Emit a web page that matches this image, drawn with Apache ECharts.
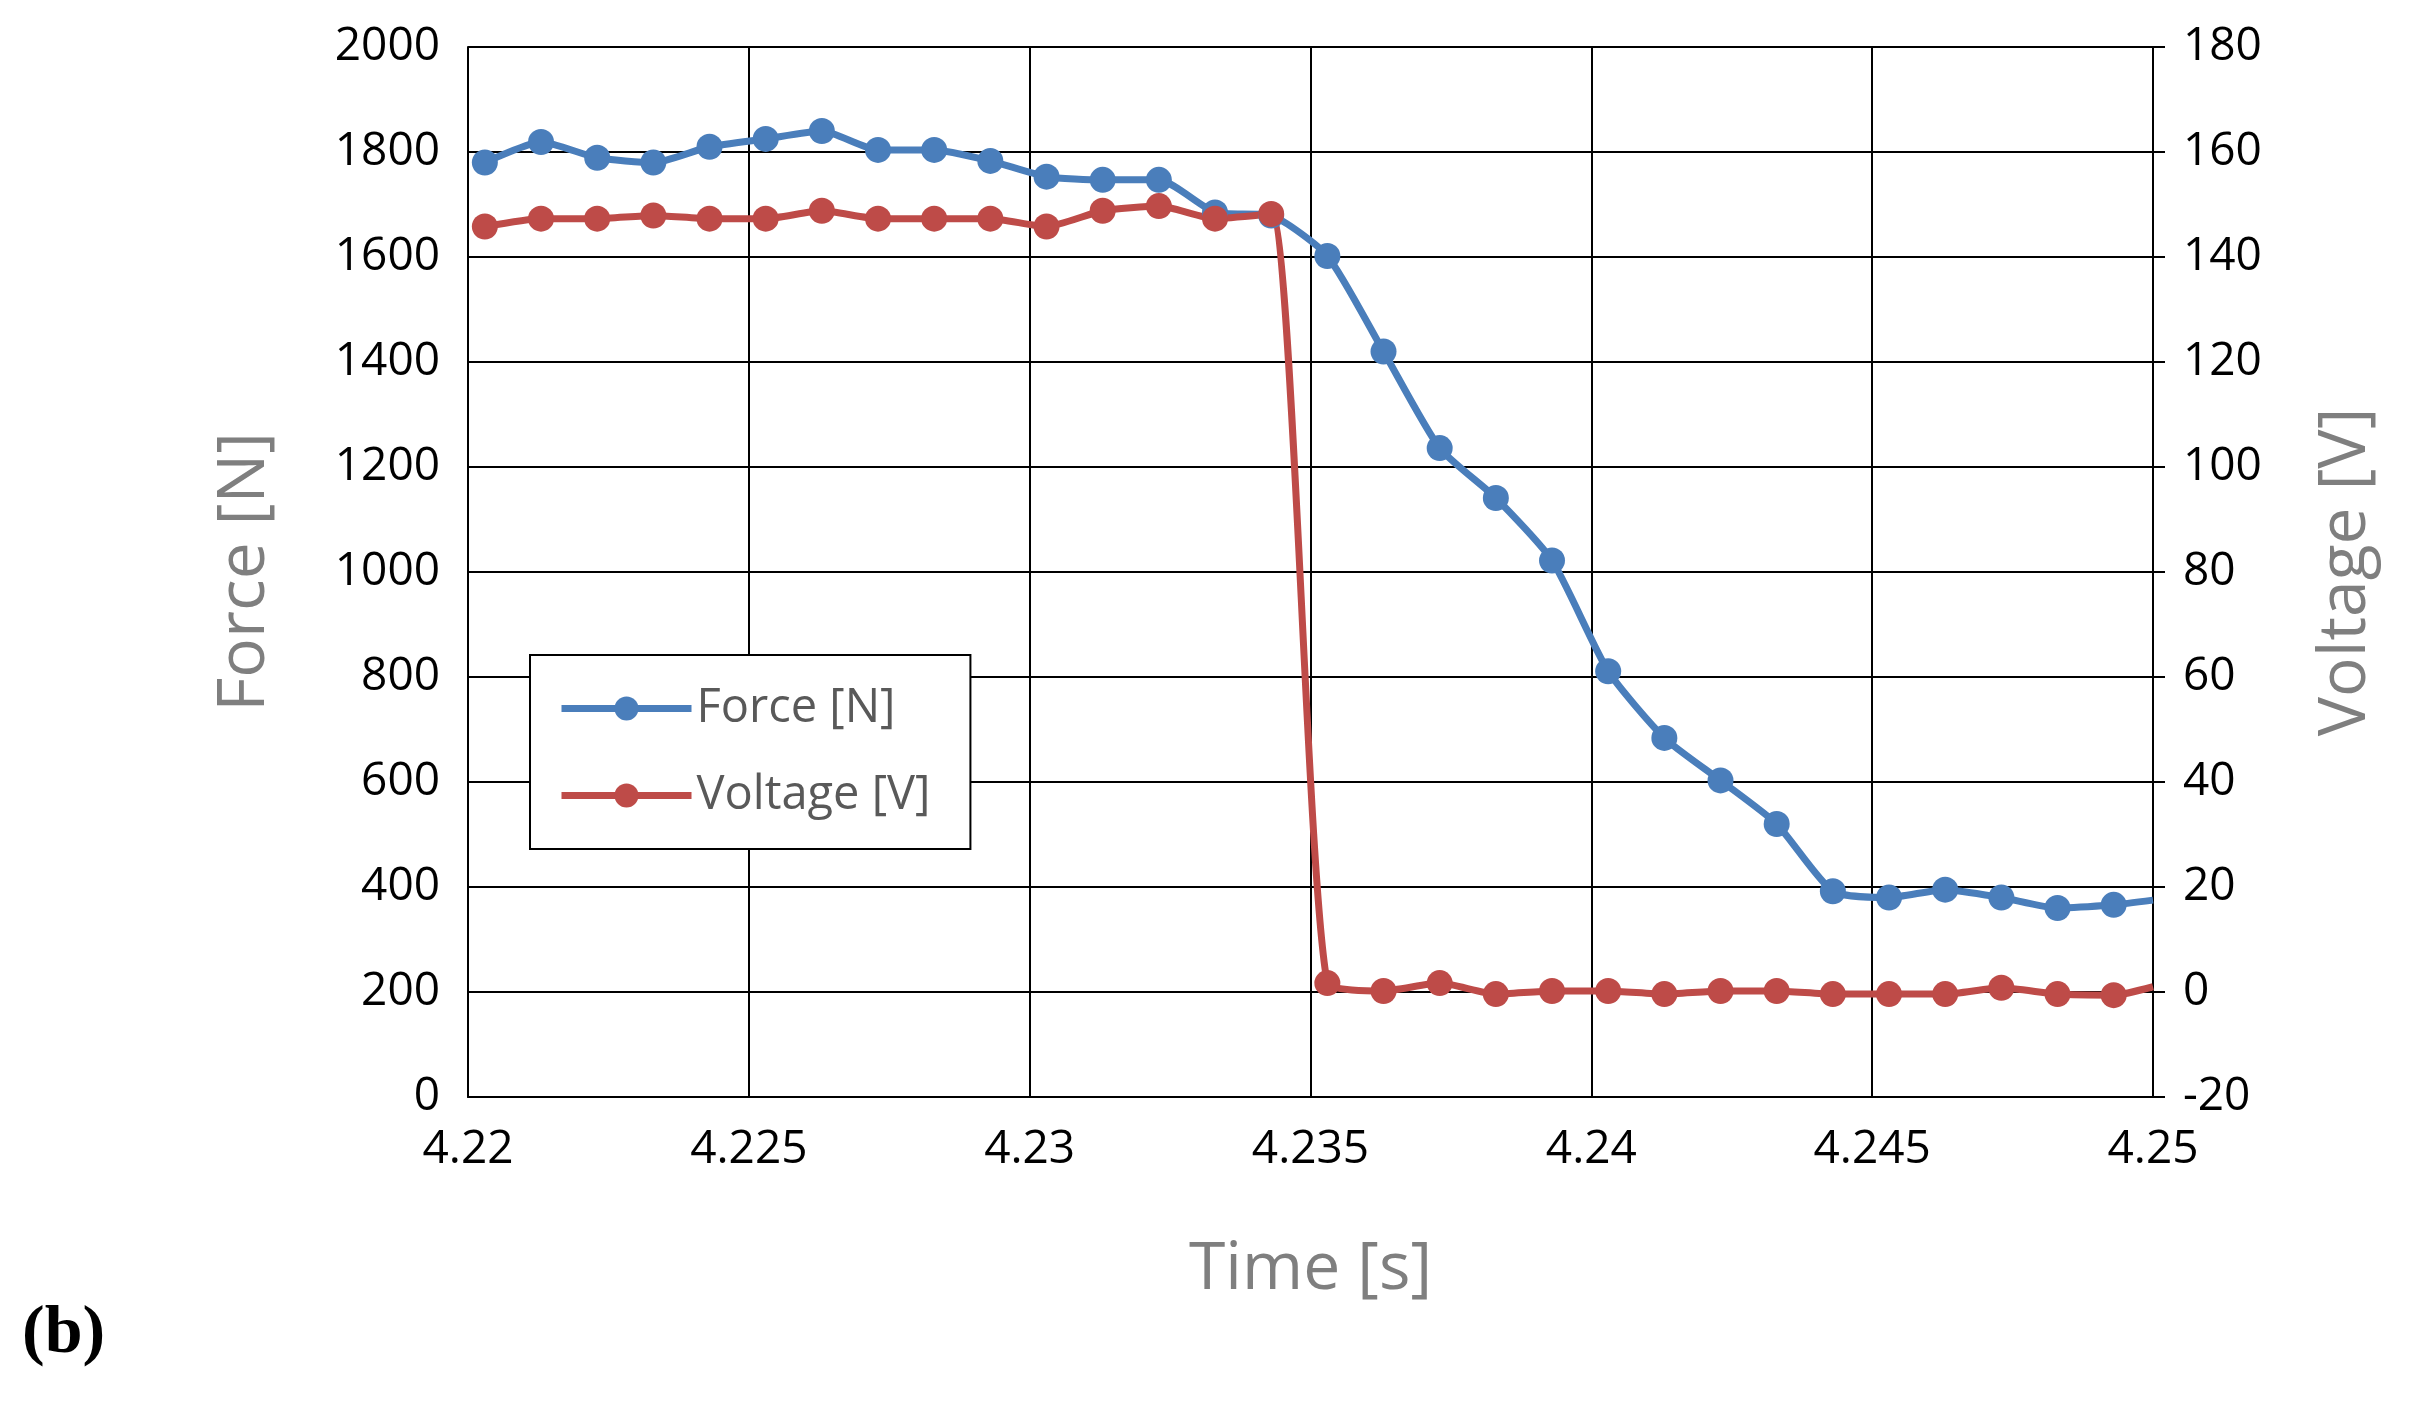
<!DOCTYPE html>
<html>
<head>
<meta charset="utf-8">
<script src="https://cdn.jsdelivr.net/npm/echarts@6/dist/echarts.min.js"></script>
<style>
  html, body { margin: 0; padding: 0; background: #fff; }
  #chart { width: 2434px; height: 1408px; }
</style>
</head>
<body>
<div id="chart"></div>
<script>
// sample times [s], one every 1 ms, plus the line end at 4.25
const times = [4.2203, 4.2213, 4.2223, 4.2233, 4.2243, 4.2253, 4.2263, 4.2273, 4.2283, 4.2293,
  4.2303, 4.2313, 4.2323, 4.2333, 4.2343, 4.2353, 4.2363, 4.2373, 4.2383, 4.2393,
  4.2403, 4.2413, 4.2423, 4.2433, 4.2443, 4.2453, 4.2463, 4.2473, 4.2483, 4.2493, 4.25];
const force = [1780, 1819, 1789, 1780, 1810, 1825, 1840, 1804, 1804, 1783,
  1753, 1747, 1747, 1685, 1679, 1602, 1420, 1236, 1141, 1022,
  811, 684, 603, 520, 392, 380, 395, 380, 360, 366, 375];
const voltage = [145.8, 147.3, 147.3, 147.9, 147.3, 147.3, 148.8, 147.3, 147.3, 147.3,
  145.8, 148.8, 149.7, 147.3, 148.2, 1.7, 0.2, 1.7, -0.4, 0.2,
  0.2, -0.4, 0.2, 0.2, -0.4, -0.4, -0.4, 0.8, -0.4, -0.6, 1.0];

const pairs = vals => vals.map((v, i) => (i === vals.length - 1
  ? { value: [times[i], v], symbolSize: 0 } : [times[i], v]));

const font = 'Open Sans, Noto Sans, sans-serif';
const chart = echarts.init(document.getElementById('chart'));
chart.setOption({
  animation: false,
  grid: { left: 468, right: 281, top: 47, bottom: 311 },
  legend: {
    orient: 'vertical',
    left: 530,
    top: 655,
    padding: [30, 40, 30, 28],
    itemGap: 40,
    itemWidth: 130,
    itemHeight: 30,
    borderColor: '#000',
    borderWidth: 2,
    backgroundColor: '#fff',
    lineStyle: { width: 7 },
    textStyle: { fontSize: 47, color: '#595959', fontFamily: font },
    data: ['Force [N]', 'Voltage [V]'],
  },
  xAxis: {
    type: 'value',
    min: 4.22,
    max: 4.25,
    interval: 0.005,
    name: 'Time [s]',
    nameLocation: 'middle',
    nameGap: 140,
    nameTextStyle: { fontSize: 66, color: '#7f7f7f', fontFamily: font },
    axisLine: { lineStyle: { color: '#000', width: 2 } },
    axisTick: { show: false },
    axisLabel: {
      fontSize: 46, color: '#000', fontFamily: font, margin: 30,
      formatter: v => String(parseFloat(v.toFixed(3))),
    },
    splitLine: { lineStyle: { color: '#000', width: 2 } },
  },
  yAxis: [
    {
      type: 'value',
      min: 0,
      max: 2000,
      interval: 200,
      name: 'Force [N]',
      nameLocation: 'middle',
      nameGap: 190,
      nameTextStyle: { fontSize: 66, color: '#7f7f7f', fontFamily: font },
      axisLine: { show: true, lineStyle: { color: '#000', width: 2 } },
      axisTick: { show: false },
      axisLabel: { fontSize: 46, color: '#000', fontFamily: font, margin: 28, formatter: v => String(v) },
      splitLine: { lineStyle: { color: '#000', width: 2 } },
    },
    {
      type: 'value',
      min: -20,
      max: 180,
      interval: 20,
      position: 'right',
      name: 'Voltage [V]',
      nameLocation: 'middle',
      nameGap: 160,
      nameRotate: 90,
      nameTextStyle: { fontSize: 66, color: '#7f7f7f', fontFamily: font },
      axisLine: { show: true, lineStyle: { color: '#000', width: 2 } },
      axisTick: { show: true, length: 12, lineStyle: { color: '#000', width: 2 } },
      axisLabel: { fontSize: 46, color: '#000', fontFamily: font, margin: 30 },
      splitLine: { show: false },
    },
  ],
  series: [
    {
      name: 'Force [N]',
      type: 'line',
      yAxisIndex: 0,
      data: pairs(force),
      smooth: 0.2,
      symbol: 'circle',
      symbolSize: 26,
      lineStyle: { color: '#4a7ebb', width: 7 },
      itemStyle: { color: '#4a7ebb' },
    },
    {
      name: 'Voltage [V]',
      type: 'line',
      yAxisIndex: 1,
      data: pairs(voltage),
      smooth: 0.2,
      symbol: 'circle',
      symbolSize: 26,
      lineStyle: { color: '#be4b48', width: 7 },
      itemStyle: { color: '#be4b48' },
    },
  ],
  graphic: [{
    type: 'text',
    left: 22,
    top: 1300,
    style: { text: '(b)', font: 'bold 68px "Liberation Serif", serif', fill: '#000' },
  }],
});
</script>
</body>
</html>
